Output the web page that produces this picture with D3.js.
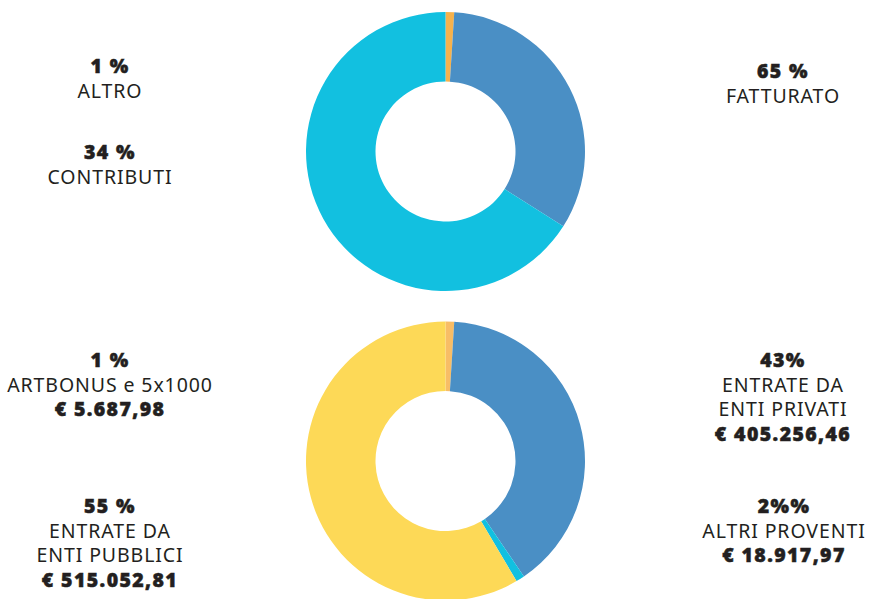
<!DOCTYPE html>
<html>
<head>
<meta charset="utf-8">
<script src="https://cdn.jsdelivr.net/npm/d3@7"></script>
<style>
  body { margin: 0; background: #fff; }
  svg { display: block; }
</style>
</head>
<body>
<div id="chart"></div>
<script>
// Shares (clockwise from 12 o'clock)
const topCategories = ['Altro', 'Contributi', 'Fatturato']
const topValues = [1, 33, 66]
const bottomCategories = ['Artbonus e 5x1000', 'Enti privati', 'Altri proventi', 'Enti pubblici']
const bottomValues = [1, 39.5, 1, 58.5]

// Label blocks: [bold line, normal lines..., bold amount]
const topNotes = [
  { pct: '1 %', lines: ['ALTRO'], amount: null },
  { pct: '34 %', lines: ['CONTRIBUTI'], amount: null },
  { pct: '65 %', lines: ['FATTURATO'], amount: null }
]
const bottomNotes = [
  { pct: '1 %', lines: ['ARTBONUS e 5x1000'], amount: '€ 5.687,98' },
  { pct: '43%', lines: ['ENTRATE DA', 'ENTI PRIVATI'], amount: '€ 405.256,46' },
  { pct: '55 %', lines: ['ENTRATE DA', 'ENTI PUBBLICI'], amount: '€ 515.052,81' },
  { pct: '2%%', lines: ['ALTRI PROVENTI'], amount: '€ 18.917,97' }
]

const width = 870
const height = 599

const topColors = d3.scaleOrdinal().domain(topCategories).range(['#f6b24c', '#4a8fc5', '#12c0e0'])
const bottomColors = d3.scaleOrdinal().domain(bottomCategories).range(['#f8bd66', '#4a8fc5', '#12c0e0', '#fdd957'])

const svg = d3.select('#chart')
  .append('svg')
  .attr('width', width)
  .attr('height', height)

const pie = d3.pie().sort(null).value(function (d) { return d.value })
const arc = d3.arc().innerRadius(70).outerRadius(139.5)

function donut (cx, cy, cats, vals, color) {
  const data = cats.map(function (c, i) { return { key: c, value: vals[i] } })
  svg.append('g')
    .attr('transform', 'translate(' + cx + ',' + cy + ')')
    .selectAll('path')
    .data(pie(data))
    .enter()
    .append('path')
    .attr('d', arc)
    .attr('fill', function (d) { return color(d.data.key) })
}

donut(445.5, 151.5, topCategories, topValues, topColors)
donut(445.5, 461, bottomCategories, bottomValues, bottomColors)

// where each label block starts (x centre, first baseline)
const topSpots = [[110, 73], [110, 159], [783, 78]]
const bottomSpots = [[110, 367], [783, 367], [110, 513], [784, 513]]

function notes (list, spots) {
  list.forEach(function (n, i) {
    const rows = [{ t: n.pct, b: true }]
      .concat(n.lines.map(function (l) { return { t: l, b: false } }))
    if (n.amount) rows.push({ t: n.amount, b: true })
    svg.append('text')
      .attr('text-anchor', 'middle')
      .attr('font-family', '"Noto Sans", sans-serif')
      .attr('font-size', 19.5)
      .attr('fill', '#231f20')
      .selectAll('tspan')
      .data(rows)
      .enter()
      .append('tspan')
      .attr('x', spots[i][0])
      .attr('y', function (d, j) { return spots[i][1] + j * 24.5 })
      .attr('font-weight', function (d) { return d.b ? 900 : 400 })
      .attr('letter-spacing', function (d) { return d.b ? 1.4 : 0.9 })
      .attr('stroke', function (d) { return d.b ? '#231f20' : 'none' })
      .attr('stroke-width', 0.5)
      .text(function (d) { return d.t })
  })
}

notes(topNotes, topSpots)
notes(bottomNotes, bottomSpots)
</script>
</body>
</html>
